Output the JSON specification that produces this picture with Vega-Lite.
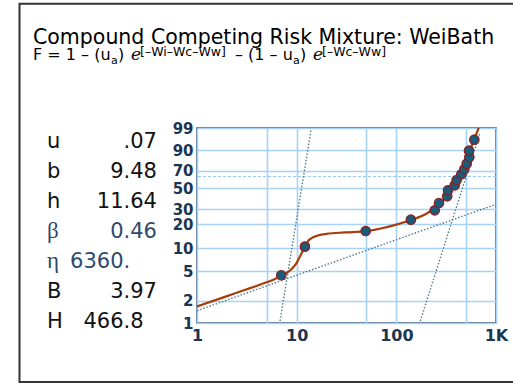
{
  "$schema": "https://vega.github.io/schema/vega-lite/v6.json",
  "width": 299,
  "height": 195,
  "autosize": {"type": "none"},
  "padding": {"left": 197, "top": 128, "right": 17, "bottom": 60},
  "background": "white",
  "config": {
    "view": {"stroke": "#2d4763", "strokeWidth": 1.5},
    "axis": {"labelOverlap": false, "labelBound": false, "labelFlush": false}
  },
  "datasets": {
    "points": [
      {"t": 7.0, "wy": -3.10}, {"t": 12.1, "wy": -2.20}, {"t": 49.3, "wy": -1.71},
      {"t": 140, "wy": -1.354}, {"t": 243, "wy": -1.059}, {"t": 268, "wy": -0.830},
      {"t": 324, "wy": -0.619}, {"t": 330, "wy": -0.430}, {"t": 385, "wy": -0.273},
      {"t": 403, "wy": -0.107}, {"t": 449, "wy": 0.072}, {"t": 481, "wy": 0.229},
      {"t": 508, "wy": 0.405}, {"t": 540, "wy": 0.606}, {"t": 536, "wy": 0.814},
      {"t": 606, "wy": 1.159}
    ],
    "curve": [
      {"t": 1, "wy": -4.08}, {"t": 2, "wy": -3.755}, {"t": 3, "wy": -3.565},
      {"t": 4, "wy": -3.43}, {"t": 5, "wy": -3.32}, {"t": 6, "wy": -3.225},
      {"t": 7, "wy": -3.11}, {"t": 8, "wy": -3.02}, {"t": 9, "wy": -2.89},
      {"t": 10, "wy": -2.71}, {"t": 11, "wy": -2.46}, {"t": 12, "wy": -2.23},
      {"t": 12.5, "wy": -2.12}, {"t": 13, "wy": -2.03}, {"t": 14, "wy": -1.94},
      {"t": 16, "wy": -1.86}, {"t": 20, "wy": -1.80}, {"t": 30, "wy": -1.755},
      {"t": 50, "wy": -1.715}, {"t": 70, "wy": -1.63}, {"t": 100, "wy": -1.51},
      {"t": 140, "wy": -1.365}, {"t": 200, "wy": -1.165}, {"t": 250, "wy": -0.96},
      {"t": 300, "wy": -0.71}, {"t": 350, "wy": -0.425}, {"t": 400, "wy": -0.11},
      {"t": 450, "wy": 0.21}, {"t": 500, "wy": 0.53}, {"t": 550, "wy": 0.84},
      {"t": 600, "wy": 1.14}, {"t": 650, "wy": 1.42}, {"t": 700, "wy": 1.69}
    ],
    "lines": [
      {"component": "infant", "t": 6.81, "wy": -4.537},
      {"component": "infant", "t": 13.92, "wy": 1.448},
      {"component": "chance", "t": 1, "wy": -4.213},
      {"component": "chance", "t": 1000, "wy": -0.870},
      {"component": "wearout", "t": 173.9, "wy": -4.537},
      {"component": "wearout", "t": 690.9, "wy": 1.370}
    ],
    "params": [
      {"sym": "u", "value": 0.07, "lead": "", "tail": ".07", "row": 0, "part": "mixture"},
      {"sym": "b", "value": 9.48, "lead": "9", "tail": ".48", "row": 1, "part": "infant"},
      {"sym": "h", "value": 11.64, "lead": "11", "tail": ".64", "row": 2, "part": "infant"},
      {"sym": "β", "value": 0.46, "lead": "0", "tail": ".46", "row": 3, "part": "chance"},
      {"sym": "η", "value": 6360, "lead": "6360", "tail": ".", "row": 4, "part": "chance"},
      {"sym": "B", "value": 3.97, "lead": "3", "tail": ".97", "row": 5, "part": "wearout"},
      {"sym": "H", "value": 466.8, "lead": "466", "tail": ".8", "row": 6, "part": "wearout"}
    ]
  },
  "layer": [
    {
      "resolve": {"scale": {"y": "shared", "x": "shared"}, "axis": {"y": "independent"}},
      "layer": [
        {
          "data": {"values": [{}]},
          "mark": {"type": "rule", "color": "#92c6f0", "strokeWidth": 1, "strokeDash": [3, 2]},
          "encoding": {
            "y": {
              "datum": 0, "type": "quantitative",
              "scale": {"domain": [-4.60015, 1.52718], "nice": false, "zero": false},
              "axis": {
                "orient": "left",
                "values": [-3.90194, -2.25037, -1.03093, 0.18563, 1.52718],
                "labelExpr": "format(100 * (1 - exp(-exp(datum.value))), '.0f')",
                "grid": true, "gridColor": "#a8d1f6", "gridWidth": 1.6,
                "ticks": false, "domain": false, "title": null,
                "labelFont": "DejaVu Sans", "labelFontWeight": "bold", "labelFontSize": 15,
                "labelColor": "#1b3552", "labelPadding": 4, "labelFlush": false, "labelOverlap": false, "labelBound": false
              }
            }
          }
        },
        {
          "data": {"name": "lines"},
          "mark": {"type": "line", "color": "#4f7d8c", "strokeWidth": 1.4, "strokeDash": [1.5, 1.8], "clip": true},
          "encoding": {
            "x": {
              "field": "t", "type": "quantitative",
              "scale": {"type": "log", "domain": [1, 1000], "nice": false},
              "axis": {
                "values": [1, 5, 10, 50, 100, 500, 1000],
                "labelExpr": "datum.value == 1000 ? '1K' : (datum.value == 1 || datum.value == 10 || datum.value == 100) ? format(datum.value, 'd') : ''",
                "grid": true, "gridColor": "#a8d1f6", "gridWidth": 1.6,
                "ticks": false, "domain": false, "title": null,
                "labelFont": "DejaVu Sans", "labelFontWeight": "bold", "labelFontSize": 16,
                "labelColor": "#1b3552", "labelPadding": 4, "labelFlush": false, "labelOverlap": false, "labelBound": false
              }
            },
            "y": {
              "field": "wy", "type": "quantitative",
              "axis": {
                "orient": "left",
                "values": [-4.60015, -2.97020, -1.49994, -0.36651, 0.83403],
                "labelExpr": "format(100 * (1 - exp(-exp(datum.value))), '.0f')",
                "grid": true, "gridColor": "#a8d1f6", "gridWidth": 1.6,
                "ticks": false, "domain": false, "title": null,
                "labelFont": "DejaVu Sans", "labelFontWeight": "bold", "labelFontSize": 15,
                "labelColor": "#1b3552", "labelPadding": 4, "labelFlush": false, "labelOverlap": false, "labelBound": false
              }
            },
            "detail": {"field": "component", "type": "nominal"}
          }
        },
        {
          "data": {"name": "curve"},
          "mark": {"type": "line", "color": "#a63d0c", "strokeWidth": 2.2, "interpolate": "monotone", "clip": true},
          "encoding": {
            "x": {"field": "t", "type": "quantitative"},
            "y": {"field": "wy", "type": "quantitative", "axis": null}
          }
        },
        {
          "data": {"name": "points"},
          "mark": {"type": "circle", "size": 90, "color": "#1d5978", "opacity": 1, "stroke": "#8e1c1c", "strokeWidth": 1.2},
          "encoding": {
            "x": {"field": "t", "type": "quantitative"},
            "y": {"field": "wy", "type": "quantitative", "axis": null}
          }
        }
      ]
    },
    {
      "layer": [
        {
          "data": {"values": [{}]},
          "mark": {"type": "rect", "fillOpacity": 0, "stroke": "#333333", "strokeWidth": 2},
          "encoding": {
            "x": {"datum": -177.5, "type": "quantitative", "scale": {"domain": [0, 299], "nice": false, "zero": false}, "axis": null},
            "x2": {"datum": 330},
            "y": {"datum": -4.81, "type": "quantitative", "scale": {"domain": [-0.6667, 5.8333], "reverse": true, "nice": false, "zero": false}, "axis": null},
            "y2": {"datum": 7.8}
          }
        },
        {
          "data": {"values": [{}]},
          "mark": {"type": "text", "text": "Compound Competing Risk Mixture: WeiBath", "align": "left", "baseline": "alphabetic", "font": "DejaVu Sans", "fontSize": 20.5, "color": "#000000"},
          "encoding": {"x": {"datum": -164, "type": "quantitative", "axis": null}, "y": {"datum": -3.4667, "type": "quantitative", "axis": null}}
        },
        {
          "data": {"name": "params"},
          "transform": [{"filter": "datum.part != 'chance'"}],
          "mark": {"type": "text", "align": "left", "baseline": "alphabetic", "font": "DejaVu Sans", "fontSize": 21},
          "encoding": {
            "x": {"datum": -150, "type": "quantitative", "axis": null},
            "y": {"field": "row", "type": "quantitative", "axis": null},
            "text": {"field": "sym"},
            "color": {"field": "part", "type": "nominal", "legend": null,
              "scale": {"domain": ["mixture", "infant", "chance", "wearout"], "range": ["#111111", "#111111", "#2e4a6e", "#111111"]}}
          }
        },
        {
          "data": {"name": "params"},
          "transform": [{"filter": "datum.part == 'chance'"}],
          "mark": {"type": "text", "align": "left", "baseline": "alphabetic", "font": "Liberation Serif", "fontSize": 23},
          "encoding": {
            "x": {"datum": -150, "type": "quantitative", "axis": null},
            "y": {"field": "row", "type": "quantitative", "axis": null},
            "text": {"field": "sym"},
            "color": {"field": "part", "type": "nominal", "legend": null}
          }
        },
        {
          "data": {"name": "params"},
          "mark": {"type": "text", "align": "right", "baseline": "alphabetic", "font": "DejaVu Sans", "fontSize": 21},
          "encoding": {
            "x": {"datum": -73.5, "type": "quantitative", "axis": null},
            "y": {"field": "row", "type": "quantitative", "axis": null},
            "text": {"field": "lead"},
            "color": {"field": "part", "type": "nominal", "legend": null}
          }
        },
        {
          "data": {"name": "params"},
          "mark": {"type": "text", "align": "left", "baseline": "alphabetic", "font": "DejaVu Sans", "fontSize": 21},
          "encoding": {
            "x": {"datum": -73.5, "type": "quantitative", "axis": null},
            "y": {"field": "row", "type": "quantitative", "axis": null},
            "text": {"field": "tail"},
            "color": {"field": "part", "type": "nominal", "legend": null}
          }
        },
        {
          "data": {"values": [{}]},
          "mark": {"type": "text", "text": "F = 1 – (u", "align": "left", "baseline": "alphabetic", "font": "DejaVu Sans", "fontSize": 16, "color": "#000000"},
          "encoding": {"x": {"datum": -164, "type": "quantitative", "axis": null}, "y": {"datum": -2.9333, "type": "quantitative", "axis": null}}
        },
        {
          "data": {"values": [{}]},
          "mark": {"type": "text", "text": "a", "align": "left", "baseline": "alphabetic", "font": "DejaVu Sans", "fontSize": 11, "color": "#000000"},
          "encoding": {"x": {"datum": -86, "type": "quantitative", "axis": null}, "y": {"datum": -2.8, "type": "quantitative", "axis": null}}
        },
        {
          "data": {"values": [{}]},
          "mark": {"type": "text", "text": ")", "align": "left", "baseline": "alphabetic", "font": "DejaVu Sans", "fontSize": 16, "color": "#000000"},
          "encoding": {"x": {"datum": -79, "type": "quantitative", "axis": null}, "y": {"datum": -2.9333, "type": "quantitative", "axis": null}}
        },
        {
          "data": {"values": [{}]},
          "mark": {"type": "text", "text": "e", "align": "left", "baseline": "alphabetic", "font": "DejaVu Serif", "fontStyle": "italic", "fontSize": 17, "color": "#000000"},
          "encoding": {"x": {"datum": -66, "type": "quantitative", "axis": null}, "y": {"datum": -2.9333, "type": "quantitative", "axis": null}}
        },
        {
          "data": {"values": [{}]},
          "mark": {"type": "text", "text": "[–Wi–Wc–Ww]", "align": "left", "baseline": "alphabetic", "font": "DejaVu Sans", "fontSize": 12.5, "color": "#000000"},
          "encoding": {"x": {"datum": -57, "type": "quantitative", "axis": null}, "y": {"datum": -3.0667, "type": "quantitative", "axis": null}}
        },
        {
          "data": {"values": [{}]},
          "mark": {"type": "text", "text": "– (1 – u", "align": "left", "baseline": "alphabetic", "font": "DejaVu Sans", "fontSize": 16, "color": "#000000"},
          "encoding": {"x": {"datum": 38, "type": "quantitative", "axis": null}, "y": {"datum": -2.9333, "type": "quantitative", "axis": null}}
        },
        {
          "data": {"values": [{}]},
          "mark": {"type": "text", "text": "a", "align": "left", "baseline": "alphabetic", "font": "DejaVu Sans", "fontSize": 11, "color": "#000000"},
          "encoding": {"x": {"datum": 96, "type": "quantitative", "axis": null}, "y": {"datum": -2.8, "type": "quantitative", "axis": null}}
        },
        {
          "data": {"values": [{}]},
          "mark": {"type": "text", "text": ")", "align": "left", "baseline": "alphabetic", "font": "DejaVu Sans", "fontSize": 16, "color": "#000000"},
          "encoding": {"x": {"datum": 103, "type": "quantitative", "axis": null}, "y": {"datum": -2.9333, "type": "quantitative", "axis": null}}
        },
        {
          "data": {"values": [{}]},
          "mark": {"type": "text", "text": "e", "align": "left", "baseline": "alphabetic", "font": "DejaVu Serif", "fontStyle": "italic", "fontSize": 17, "color": "#000000"},
          "encoding": {"x": {"datum": 116, "type": "quantitative", "axis": null}, "y": {"datum": -2.9333, "type": "quantitative", "axis": null}}
        },
        {
          "data": {"values": [{}]},
          "mark": {"type": "text", "text": "[–Wc–Ww]", "align": "left", "baseline": "alphabetic", "font": "DejaVu Sans", "fontSize": 12.5, "color": "#000000"},
          "encoding": {"x": {"datum": 125, "type": "quantitative", "axis": null}, "y": {"datum": -3.0667, "type": "quantitative", "axis": null}}
        }
      ]
    }
  ],
  "resolve": {"scale": {"x": "independent", "y": "independent", "color": "independent"}}
}
